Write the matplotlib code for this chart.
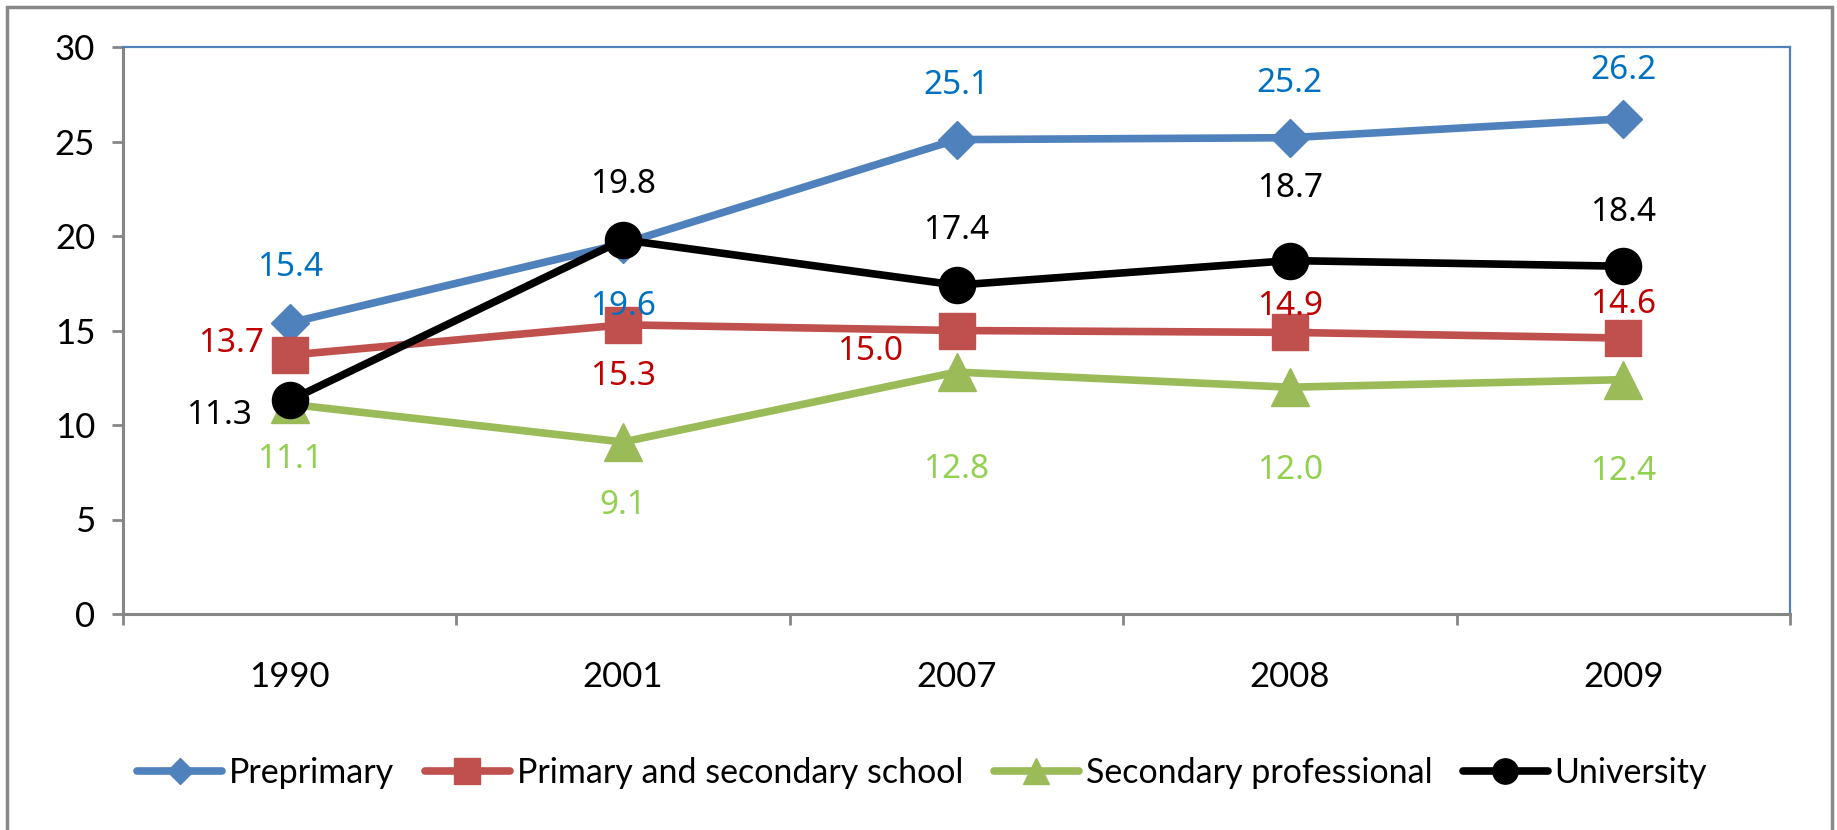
import matplotlib.pyplot as plt
from matplotlib.patches import Rectangle

# chart data
years = ['1990', '2001', '2007', '2008', '2009']
preprimary = [15.4, 19.6, 25.1, 25.2, 26.2]
primary_secondary = [13.7, 15.3, 15.0, 14.9, 14.6]
secondary_prof = [11.1, 9.1, 12.8, 12.0, 12.4]
university = [11.3, 19.8, 17.4, 18.7, 18.4]
series_names = ['Preprimary', 'Primary and secondary school',
                'Secondary professional', 'University']

# styles: line colour, label colour, marker, marker size
styles = [
    ('#4F81BD', '#0070C0', 'D', 19),
    ('#C0504D', '#C00000', 's', 26),
    ('#9BBB59', '#92D050', '^', 27),
    ('#000000', '#000000', 'o', 26),
]
# data label offsets in points (dx, dy)
label_offsets = [
    [(0, 40), (0, -45), (0, 39), (0, 39), (0, 35)],
    [(-42, 8), (0, -37), (-62, -15), (0, 19), (0, 24)],
    [(0, -40), (0, -46), (0, -70), (0, -60), (0, -66)],
    [(-51, -11), (0, 40), (0, 39), (0, 52), (0, 39)],
]

fig = plt.figure(figsize=(18.37, 8.30), dpi=100)
ax = fig.add_axes([123 / 1837, 1 - 614 / 830, (1790 - 123) / 1837, (614 - 47) / 830])

x = list(range(len(years)))
all_series = [preprimary, primary_secondary, secondary_prof, university]
for vals, name, (lc, tc, mk, ms), offs in zip(all_series, series_names, styles, label_offsets):
    ax.plot(x, vals, color=lc, lw=5.5, marker=mk, markersize=ms, label=name,
            solid_capstyle='round', zorder=3)
    for xi, v, (dx, dy) in zip(x, vals, offs):
        ax.annotate(f'{v:.1f}', (xi, v), xytext=(dx, dy), textcoords='offset points',
                    ha='center', va='center', color=tc, fontsize=24,
                    family='Noto Sans', zorder=4)

ax.set_xlim(-0.5, 4.5)
ax.set_ylim(0, 30)
ax.set_yticks(range(0, 31, 5))
ax.set_xticks(x)
ax.set_xticklabels(years)
ax.set_xticks([i - 0.5 for i in range(6)], minor=True)
ax.tick_params(axis='x', which='major', length=0, pad=34, labelsize=25)
ax.tick_params(axis='x', which='minor', length=8, width=2, color='#868686', direction='out')
ax.tick_params(axis='y', length=8, width=2, color='#868686', direction='out', pad=12, labelsize=25)
for lbl in ax.get_xticklabels() + ax.get_yticklabels():
    lbl.set_family('Lato')

ax.spines['left'].set_color('#868686')
ax.spines['bottom'].set_color('#868686')
ax.spines['left'].set_linewidth(2.2)
ax.spines['bottom'].set_linewidth(2.2)
ax.spines['top'].set_color('#4F81BD')
ax.spines['right'].set_color('#4F81BD')
ax.spines['top'].set_linewidth(1.6)
ax.spines['right'].set_linewidth(1.6)

leg = fig.legend(loc='center', bbox_to_anchor=(0.502, 0.069), ncol=4, frameon=False,
                 prop={'family': 'Lato', 'size': 24.5}, handlelength=2.5,
                 handletextpad=0.2, columnspacing=0.9, markerscale=0.7)

# outer chart border
fig.patches.append(Rectangle((7 / 1837, -0.01), (1832 - 7) / 1837, 0.9916 + 0.01,
                             transform=fig.transFigure, fill=False,
                             edgecolor='#898989', lw=2.5))

fig.savefig('out.png', dpi=100)
